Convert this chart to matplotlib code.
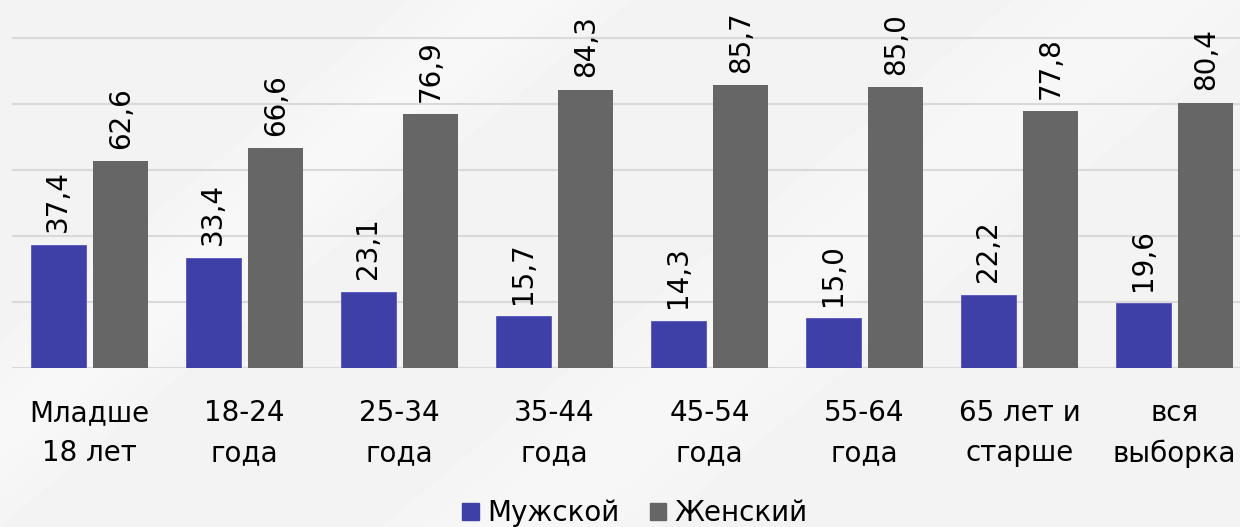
import numpy as np
import matplotlib.pyplot as plt
from matplotlib.patches import Patch

categories = ["Младше\n18 лет", "18-24\nгода", "25-34\nгода", "35-44\nгода",
              "45-54\nгода", "55-64\nгода", "65 лет и\nстарше", "вся\nвыборка"]
male = [37.4, 33.4, 23.1, 15.7, 14.3, 15.0, 22.2, 19.6]
female = [62.6, 66.6, 76.9, 84.3, 85.7, 85.0, 77.8, 80.4]
series_names = ["Мужской", "Женский"]

c_male = '#3f3fa8'
c_female = '#666666'
bg = '#f3f3f3'

plt.rcParams['font.family'] = ['DejaVu Sans']

fig = plt.figure(figsize=(12.4, 5.27), dpi=100, facecolor=bg)
# soft diagonal light bands in the background
bgax = fig.add_axes([0, 0, 1, 1], zorder=-10)
yy, xx = np.mgrid[0:527, 0:1240]
d = (xx + yy * 1.2)
band = np.exp(-((d - 520) / 90.0) ** 2) * 0.6 + np.exp(-((d - 1150) / 120.0) ** 2) * 0.5
img = 0.953 + 0.03 * band
bgax.imshow(np.clip(img, 0, 1), cmap='gray', vmin=0, vmax=1, aspect='auto')
bgax.axis('off')

ax = fig.add_axes([12 / 1240, (527 - 368) / 527, 1.0, 368 / 527])
ax.set_facecolor('none')

x = np.arange(len(categories))
w = 0.355
off = 0.203
b1 = ax.bar(x - off, male, w, color=c_male, edgecolor='#5555bb', linewidth=0.6, zorder=3)
b2 = ax.bar(x + off, female, w, color=c_female, zorder=3)

for bars, vals in [(b1, male), (b2, female)]:
    for r, v in zip(bars, vals):
        ax.annotate(f"{v:.1f}".replace('.', ','),
                    (r.get_x() + r.get_width() / 2, r.get_height()),
                    xytext=(0, 9), textcoords='offset points',
                    rotation=90, ha='center', va='bottom', fontsize=20, color='black')

ax.set_xlim(-0.5, len(categories) - 0.5)
ax.set_ylim(0, 111.5)
ax.set_yticks([0, 20, 40, 60, 80, 100])
ax.yaxis.grid(True, color='#d9d9d9', linewidth=1.5, zorder=0)
ax.tick_params(axis='y', left=False, labelleft=False)
ax.tick_params(axis='x', bottom=False, pad=19, labelsize=20)
ax.set_xticks(x)
ax.set_xticklabels(categories, linespacing=1.55)
for s in ax.spines.values():
    s.set_visible(False)

handles = [Patch(color=c_male), Patch(color=c_female)]
fig.legend(handles, series_names, loc='center', bbox_to_anchor=(0.512, 0.026),
           ncol=2, frameon=False, fontsize=20, handlelength=0.6, handleheight=0.6,
           handletextpad=0.3, columnspacing=1.1)

fig.savefig('out.png', dpi=100, facecolor=bg)
